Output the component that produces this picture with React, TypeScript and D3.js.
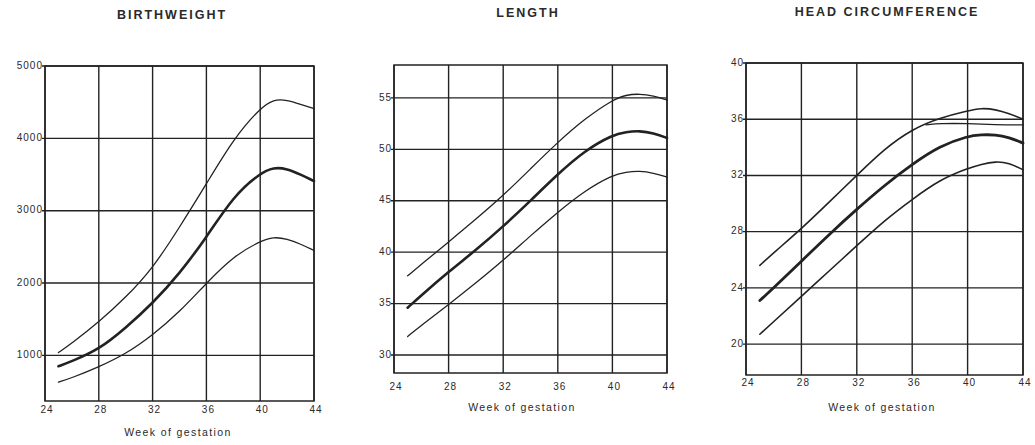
import React from "react";
import * as d3 from "d3";

// Gestational weeks at which the centile curves are sampled
const WEEKS = [25, 26, 28, 30, 32, 34, 36, 38, 40, 41, 42, 43, 44];
const X_TICKS = [24, 28, 32, 36, 40, 44];

// Birthweight (g): 90th, 50th, 10th centiles
const BW_UPPER = [1040, 1170, 1460, 1800, 2200, 2770, 3370, 3990, 4420, 4540, 4530, 4470, 4410];
const BW_MIDDLE = [850, 920, 1080, 1380, 1720, 2130, 2630, 3200, 3520, 3600, 3580, 3500, 3410];
const BW_LOWER = [630, 690, 840, 1020, 1280, 1600, 2000, 2370, 2580, 2640, 2610, 2540, 2450];
const BW_TICKS = [1000, 2000, 3000, 4000, 5000];

// Length (cm)
const LEN_UPPER = [37.7, 38.8, 41.0, 43.2, 45.5, 48.1, 50.7, 53.0, 54.8, 55.3, 55.4, 55.2, 54.8];
const LEN_MIDDLE = [34.6, 35.8, 38.1, 40.2, 42.5, 45.0, 47.6, 49.9, 51.4, 51.7, 51.8, 51.6, 51.1];
const LEN_LOWER = [31.8, 32.9, 34.9, 37.0, 39.2, 41.6, 43.9, 46.0, 47.5, 47.8, 47.9, 47.7, 47.3];
const LEN_TICKS = [30, 35, 40, 45, 50, 55];

// Head circumference (cm)
const HC_UPPER = [25.6, 26.5, 28.2, 30.1, 32.0, 33.9, 35.3, 36.1, 36.6, 36.8, 36.7, 36.4, 36.0];
const HC_MIDDLE = [23.1, 24.0, 25.9, 27.8, 29.6, 31.3, 32.8, 34.1, 34.8, 34.9, 34.9, 34.7, 34.3];
const HC_LOWER = [20.7, 21.6, 23.4, 25.2, 27.0, 28.8, 30.3, 31.7, 32.5, 32.8, 33.0, 32.9, 32.4];
const HC_PLATEAU_WEEKS = [37, 38, 40, 42, 44];
const HC_PLATEAU = [35.6, 35.7, 35.7, 35.6, 35.6];
const HC_TICKS = [20, 24, 28, 32, 36, 40];

const TITLES = ["BIRTHWEIGHT", "LENGTH", "HEAD CIRCUMFERENCE"];
const X_LABEL = "Week of gestation";

type Series = { weeks: number[]; values: number[]; width: number };
type Panel = {
  title: string;
  titleX: number;
  titleY: number;
  left: number;
  right: number;
  top: number;
  bottom: number;
  yDomain: [number, number];
  yTicks: number[];
  xTickY: number;
  xLabelX: number;
  xLabelY: number;
  series: Series[];
};

const ink = "#222";
const font = "'Liberation Sans', Arial, sans-serif";

const panels: Panel[] = [
  {
    title: TITLES[0], titleX: 172, titleY: 16,
    left: 45, right: 314, top: 66, bottom: 401,
    yDomain: [370, 5000], yTicks: BW_TICKS,
    xTickY: 410, xLabelX: 178, xLabelY: 433,
    series: [
      { weeks: WEEKS, values: BW_UPPER, width: 1.3 },
      { weeks: WEEKS, values: BW_MIDDLE, width: 2.6 },
      { weeks: WEEKS, values: BW_LOWER, width: 1.3 },
    ],
  },
  {
    title: TITLES[1], titleX: 528, titleY: 14,
    left: 394, right: 667, top: 65, bottom: 373,
    yDomain: [28.25, 58.2], yTicks: LEN_TICKS,
    xTickY: 387, xLabelX: 522, xLabelY: 408,
    series: [
      { weeks: WEEKS, values: LEN_UPPER, width: 1.3 },
      { weeks: WEEKS, values: LEN_MIDDLE, width: 2.6 },
      { weeks: WEEKS, values: LEN_LOWER, width: 1.3 },
    ],
  },
  {
    title: TITLES[2], titleX: 887, titleY: 13,
    left: 746, right: 1023, top: 63, bottom: 375,
    yDomain: [17.8, 40], yTicks: HC_TICKS,
    xTickY: 383, xLabelX: 882, xLabelY: 408,
    series: [
      { weeks: WEEKS, values: HC_UPPER, width: 1.6 },
      { weeks: HC_PLATEAU_WEEKS, values: HC_PLATEAU, width: 1.3 },
      { weeks: WEEKS, values: HC_MIDDLE, width: 2.8 },
      { weeks: WEEKS, values: HC_LOWER, width: 1.6 },
    ],
  },
];

function ChartPanel({ p }: { p: Panel }) {
  const x = d3.scaleLinear().domain([24, 44]).range([p.left, p.right]);
  const y = d3.scaleLinear().domain(p.yDomain).range([p.bottom, p.top]);
  const line = d3
    .line<[number, number]>()
    .x((d) => x(d[0]))
    .y((d) => y(d[1]))
    .curve(d3.curveBasis);

  return (
    <g>
      <text
        x={p.titleX}
        y={p.titleY}
        textAnchor="middle"
        dominantBaseline="middle"
        fontFamily={font}
        fontWeight="bold"
        fontSize={12.5}
        letterSpacing={2}
        fill="#2a2a2a"
      >
        {p.title}
      </text>

      {/* grid */}
      {X_TICKS.map((t) => (
        <line key={"vx" + t} x1={x(t)} x2={x(t)} y1={p.top} y2={p.bottom} stroke={ink} strokeWidth={1.4} />
      ))}
      {p.yTicks.map((t) => (
        <line key={"hy" + t} x1={p.left - 3} x2={p.right} y1={y(t)} y2={y(t)} stroke={ink} strokeWidth={1.4} />
      ))}
      <rect
        x={p.left}
        y={p.top}
        width={p.right - p.left}
        height={p.bottom - p.top}
        fill="none"
        stroke={ink}
        strokeWidth={1.5}
      />

      {/* y tick labels */}
      {p.yTicks.map((t) => (
        <text
          key={"ly" + t}
          x={p.left - 2}
          y={y(t)}
          textAnchor="end"
          dominantBaseline="middle"
          fontFamily={font}
          fontSize={10}
          letterSpacing={1}
          fill="#2a2a2a"
        >
          {t}
        </text>
      ))}

      {/* x tick labels */}
      {X_TICKS.map((t) => (
        <text
          key={"lx" + t}
          x={x(t) + 2}
          y={p.xTickY}
          textAnchor="middle"
          dominantBaseline="middle"
          fontFamily={font}
          fontSize={10}
          letterSpacing={1}
          fill="#2a2a2a"
        >
          {t}
        </text>
      ))}
      <text
        x={p.xLabelX}
        y={p.xLabelY}
        textAnchor="middle"
        dominantBaseline="middle"
        fontFamily={font}
        fontSize={10.5}
        letterSpacing={1.4}
        fill="#2a2a2a"
      >
        {X_LABEL}
      </text>

      {/* centile curves */}
      {p.series.map((s, i) => (
        <path
          key={"s" + i}
          d={line(s.weeks.map((w, j) => [w, s.values[j]] as [number, number])) || ""}
          fill="none"
          stroke={ink}
          strokeWidth={s.width}
          strokeLinecap="round"
        />
      ))}
    </g>
  );
}

export default function App() {
  return (
    <svg
      width={1035}
      height={445}
      viewBox="0 0 1035 445"
      style={{ position: "absolute", left: 0, top: 0, background: "#fff" }}
    >
      <rect width={1035} height={445} fill="#fff" />
      {panels.map((p) => (
        <ChartPanel key={p.title} p={p} />
      ))}
    </svg>
  );
}
